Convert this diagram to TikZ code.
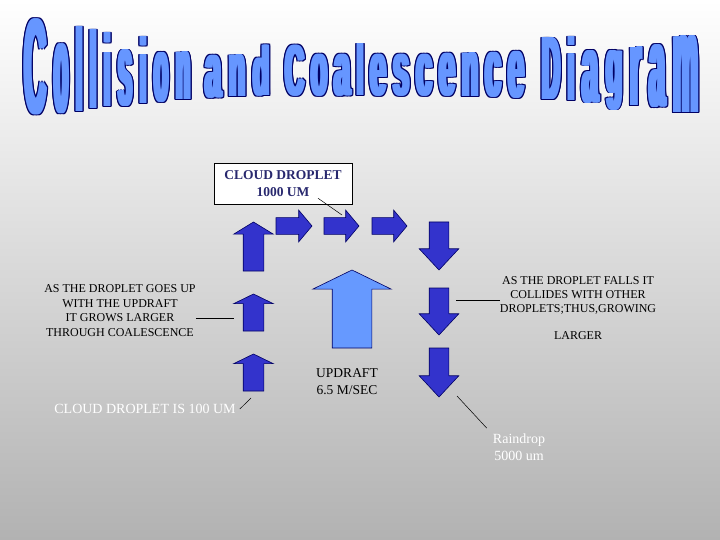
\documentclass[tikz,border=0pt]{standalone}
\usepackage{fontspec}
\setmainfont{Liberation Serif}
\newfontfamily\ttlfont{Liberation Sans}
\usetikzlibrary{shapes.arrows}

\definecolor{dropblue}{RGB}{51,51,204}
\definecolor{driftblue}{RGB}{102,153,255}
\definecolor{ttlblue}{RGB}{102,150,255}
\definecolor{edgenavy}{RGB}{0,0,100}
\definecolor{boxnavy}{RGB}{40,40,110}
\definecolor{bggray}{RGB}{178,178,178}

% one stretched title letter: x centre, ink top, ink bottom, width, letter
\newcommand\ttlglyph[5]{%
  \pgfmathsetmacro\ttlh{#3-#2}%
  \pgfmathsetmacro\ttlw{#4-5}%
  \foreach \dx in {-3,-1.5,0,1.5,3}
    \foreach \dy in {-0.9,0,0.9}
      \node[ttl glyph,text=edgenavy] at ([xshift=\dx pt,yshift=\dy pt]#1,#3)
        {\resizebox*{\ttlw pt}{\ttlh pt}{#5}};
  \foreach \dx in {-2.2,-1.1,0,1.1,2.2}
    \node[ttl glyph,text=ttlblue] at ([xshift=\dx pt]#1,#3)
      {\resizebox*{\ttlw pt}{\ttlh pt}{#5}};
}

\begin{document}
\begin{tikzpicture}[
  x=1pt,
  y=-1pt,
  ttl glyph/.style={inner sep=0pt,outer sep=0pt,anchor=south,
    font=\ttlfont\bfseries},
  leader/.style={draw=black,line width=0.5pt},
  blockarrow/.style n args={4}{single arrow,draw=edgenavy,line width=0.6pt,
    inner sep=#1,single arrow head extend=#2,single arrow tip angle=#3,
    minimum height=#4,single arrow head indent=0pt,outer sep=0pt,anchor=tip},
  dropright/.style={blockarrow={8pt}{7.5pt}{100}{#1},fill=dropblue},
  dropup/.style 2 args={blockarrow={10pt}{9.5pt}{#1}{#2},fill=dropblue,
    shape border rotate=90},
  dropdown/.style={blockarrow={9.5pt}{10pt}{86}{#1},fill=dropblue,
    shape border rotate=270},
  note/.style={inner sep=0pt,align=center,text=black}
]
  \useasboundingbox (0,0) rectangle (720,540);
  \shade[top color=white,bottom color=bggray] (0,0) rectangle (720,540);

  % Title.
  \foreach \x/\t/\b/\w/\c in {
      35.5/19/115/27/C, 61.5/44/114/19/o, 79.5/27/112/11/l, 93.5/30/109/11/l,
      107.5/33/107/11/i, 125.5/50/107/19/s, 143.5/37/104/11/i,
      161.5/52/102/19/o, 183.5/52/100/19/n,
      213.5/55/98/21/a, 237.5/55/97/21/n, 261.5/45/96/21/d,
      295/45/96/24/C, 319.5/54/96/21/o, 342.5/54/96/21/a, 360.5/44/96/11/l,
      378.5/54/96/21/e, 401.5/54/96/21/s, 424.5/54/96/21/c, 447.5/53/96/21/e,
      470.5/53/97/21/n, 493.5/52/97/21/c, 516.5/51/98/21/e,
      551.5/38/100/23/D, 571.5/37/101/11/i, 590.5/50/103/21/a,
      614.5/50/110/21/g, 636/47/106/16/r, 657.5/45/108/21/a, 686/36/113/30/m}
    \ttlglyph{\x}{\t}{\b}{\w}{\c};

  % Droplet path.
  \node[dropup={117}{49pt}] (u1) at (253.5,222) {};
  \node[dropup={128}{37pt}] (u2) at (253.5,294) {};
  \node[dropup={128}{37pt}] (u3) at (253.5,354) {};
  \node[dropright=36pt] (r1) at (312,226) {};
  \node[dropright=35pt] (r2) at (359,226) {};
  \node[dropright=35pt] (r3) at (407,226) {};
  \node[dropdown=48pt] (d1) at (439,270) {};
  \node[dropdown=47pt] (d2) at (439,335) {};
  \node[dropdown=49pt] (d3) at (439,397) {};
  \node[blockarrow={19.5pt}{19.5pt}{128}{78pt},fill=driftblue,
    shape border rotate=90] (drift) at (352,270) {};

  % Labels.
  \node[draw=black,fill=white,line width=0.5pt,minimum width=138pt,
    minimum height=41pt,align=center,text=boxnavy,
    font=\fontsize{13.5}{17}\selectfont\bfseries] (drop1000) at (283,183.5)
    {CLOUD DROPLET\\1000 UM};
  \node[note,font=\fontsize{12}{14.5}\selectfont] (growtxt) at (120,310.5)
    {AS THE DROPLET GOES UP\\WITH THE UPDRAFT\\IT GROWS LARGER\\THROUGH COALESCENCE};
  \node[note,font=\fontsize{12}{14}\selectfont] (falltxt) at (578,308.5)
    {AS THE DROPLET FALLS IT\\COLLIDES WITH OTHER\\DROPLETS;THUS,GROWING\\[13pt]LARGER};
  \node[note,font=\fontsize{13.5}{17}\selectfont] (drifttxt) at (347,381.5)
    {UPDRAFT\\6.5 M/SEC};
  \node[note,text=white,font=\fontsize{14}{17}\selectfont] (drop100) at (145,409)
    {CLOUD DROPLET IS 100 UM};
  \node[note,text=white,font=\fontsize{14}{17.5}\selectfont] (raintxt) at (519,447)
    {Raindrop\\5000 um};

  % Leader lines.
  \coordinate (r2mark) at (342,215);
  \coordinate (u2mark) at (234,318);
  \coordinate (d2mark) at (456,300);
  \coordinate (u3mark) at (251,398);
  \coordinate (d3mark) at (457,396);
  \draw[leader] ([xshift=35pt,yshift=6pt]drop1000.south) -- (r2mark);
  \draw[leader] (growtxt.east |- u2mark) -- (u2mark);
  \draw[leader] (falltxt.west |- d2mark) -- (d2mark);
  \draw[leader] ([xshift=4pt]drop100.east) -- (u3mark);
  \draw[leader] ([xshift=-6pt,yshift=5pt]raintxt.north west) -- (d3mark);
\end{tikzpicture}
\end{document}
